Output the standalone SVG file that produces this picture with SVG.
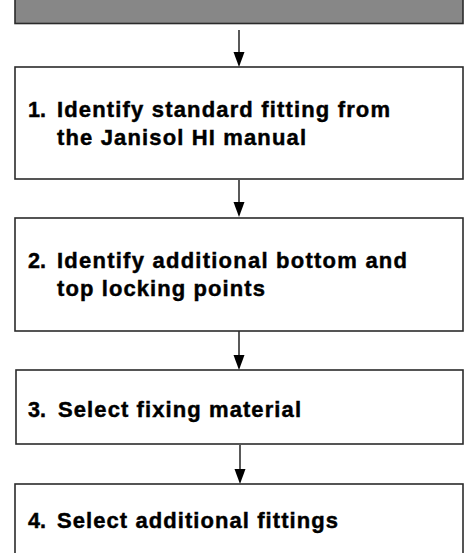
<svg xmlns="http://www.w3.org/2000/svg" width="470" height="553" viewBox="0 0 470 553">
<style>
.box{fill:#fff;stroke:#2b2b2b;stroke-width:1.6}
.hdr{fill:#878787;stroke:#2b2b2b;stroke-width:1.6}
.t{font-family:"Liberation Sans",Arial,sans-serif;font-weight:bold;font-size:22px;fill:#000;stroke:#000;stroke-width:0.45}
.c{stroke:#000;stroke-width:1.3;fill:none}
.h{fill:#000}
</style>
<rect width="470" height="553" fill="#fff"/>
<g id="header"><rect class="hdr" x="15" y="-5" width="448" height="28.5"/></g>
<g id="connectors">
<line class="c" x1="239" y1="30" x2="239" y2="54"/><polygon class="h" points="233.5,52 244.5,52 239,67"/>
<line class="c" x1="239" y1="180" x2="239" y2="204"/><polygon class="h" points="233.5,202 244.5,202 239,217"/>
<line class="c" x1="239" y1="331" x2="239" y2="357"/><polygon class="h" points="233.5,355 244.5,355 239,370"/>
<line class="c" x1="240" y1="445" x2="240" y2="471"/><polygon class="h" points="234.5,469 245.5,469 240,484"/>
</g>
<g id="step1"><rect class="box" x="15" y="67" width="448" height="112"/>
<text class="t" x="28" y="117" textLength="18" lengthAdjust="spacingAndGlyphs">1.</text><text class="t" x="57" y="117" textLength="333" lengthAdjust="spacing">Identify standard fitting from</text>
<text class="t" x="57" y="145" textLength="249" lengthAdjust="spacing">the Janisol HI manual</text></g>
<g id="step2"><rect class="box" x="15" y="218" width="448" height="113"/>
<text class="t" x="28" y="268" textLength="18" lengthAdjust="spacingAndGlyphs">2.</text><text class="t" x="57" y="268" textLength="350" lengthAdjust="spacing">Identify additional bottom and</text>
<text class="t" x="57" y="296" textLength="208" lengthAdjust="spacing">top locking points</text></g>
<g id="step3"><rect class="box" x="16" y="370" width="447" height="74"/>
<text class="t" x="28" y="417" textLength="18" lengthAdjust="spacingAndGlyphs">3.</text><text class="t" x="58" y="417" textLength="243" lengthAdjust="spacing">Select fixing material</text></g>
<g id="step4"><rect class="box" x="15" y="484" width="448" height="80"/>
<text class="t" x="28" y="528" textLength="18" lengthAdjust="spacingAndGlyphs">4.</text><text class="t" x="57" y="528" textLength="281" lengthAdjust="spacing">Select additional fittings</text></g>
</svg>
